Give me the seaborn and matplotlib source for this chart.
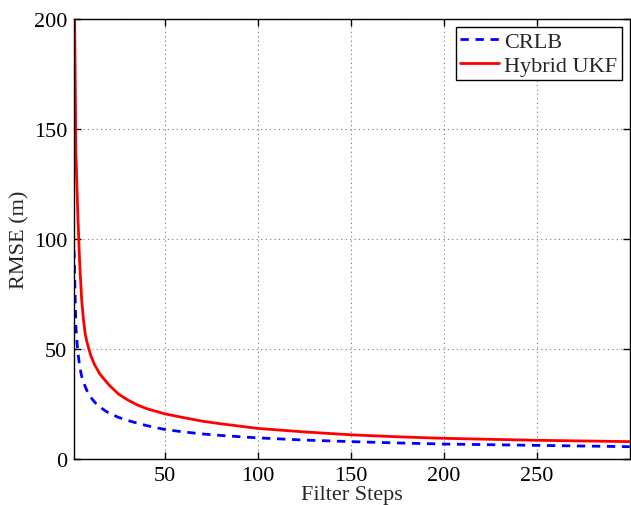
import pandas as pd
import seaborn as sns
import matplotlib.pyplot as plt

# values
steps_ukf = [1, 2, 3, 4, 5, 6, 7, 8, 10, 12, 15, 18, 20, 25, 30, 35, 40, 50, 60, 70, 80, 100, 125, 150, 175, 200, 250, 300]
rmse_ukf = [230, 140, 112, 90, 74, 64, 57, 53, 47, 43, 38.5, 35.5, 33.5, 29.5, 26.8, 24.6, 22.9, 20.5, 18.8, 17.2, 16.0, 13.9, 12.3, 11.0, 10.1, 9.4, 8.5, 7.9]

steps_crlb = [1, 2, 3, 4, 5, 6, 8, 10, 13, 15, 18, 20, 25, 30, 35, 40, 50, 60, 70, 80, 100, 125, 150, 175, 200, 250, 300]
rmse_crlb = [95, 60, 49, 42.5, 38, 35, 31, 28, 25, 23.6, 21.8, 20.8, 18.9, 17.5, 16.3, 15.2, 13.4, 12.3, 11.4, 10.7, 9.6, 8.6, 7.9, 7.3, 6.8, 6.2, 5.6]

x_ticks = [50, 100, 150, 200, 250]
y_ticks = [0, 50, 100, 150, 200]

sns.set_style("ticks")
plt.rcParams['font.family'] = ['Liberation Serif', 'DejaVu Serif']

df_crlb = pd.DataFrame({"step": steps_crlb, "rmse": rmse_crlb})
df_ukf = pd.DataFrame({"step": steps_ukf, "rmse": rmse_ukf})

fig = plt.figure(figsize=(6.31, 5.06), dpi=100)
ax = fig.add_axes([0.1173, 0.0909, 0.8807, 0.8696])

sns.lineplot(data=df_crlb, x="step", y="rmse", ax=ax, color="#0000ff",
             linewidth=2, linestyle=(0, (3, 2.4)), label="CRLB")
sns.lineplot(data=df_ukf, x="step", y="rmse", ax=ax, color="#ff0000",
             linewidth=2, label="Hybrid UKF")

ax.set_xlim(1, 300)
ax.set_ylim(0, 200)
ax.set_xticks(x_ticks)
ax.set_yticks(y_ticks)
ax.grid(True, linestyle=(0, (1, 3)), color="#777777", linewidth=0.8)
ax.tick_params(direction="in", top=True, right=True, length=5, labelsize=16,
               width=1, colors="black", pad=5)
for sp in ax.spines.values():
    sp.set_linewidth(1)
    sp.set_color("black")

ax.set_xlabel("Filter Steps", fontsize=16, labelpad=0)
ax.set_ylabel("RMSE (m)", fontsize=16, labelpad=3)

leg = ax.legend(loc="upper right", fontsize=16, frameon=True, fancybox=False,
                framealpha=1, edgecolor="black", borderpad=0.2,
                handlelength=1.75, handletextpad=0.25, labelspacing=0.15,
                borderaxespad=0.35)
leg.get_frame().set_linewidth(1)

fig.savefig("out.png", dpi=100)
